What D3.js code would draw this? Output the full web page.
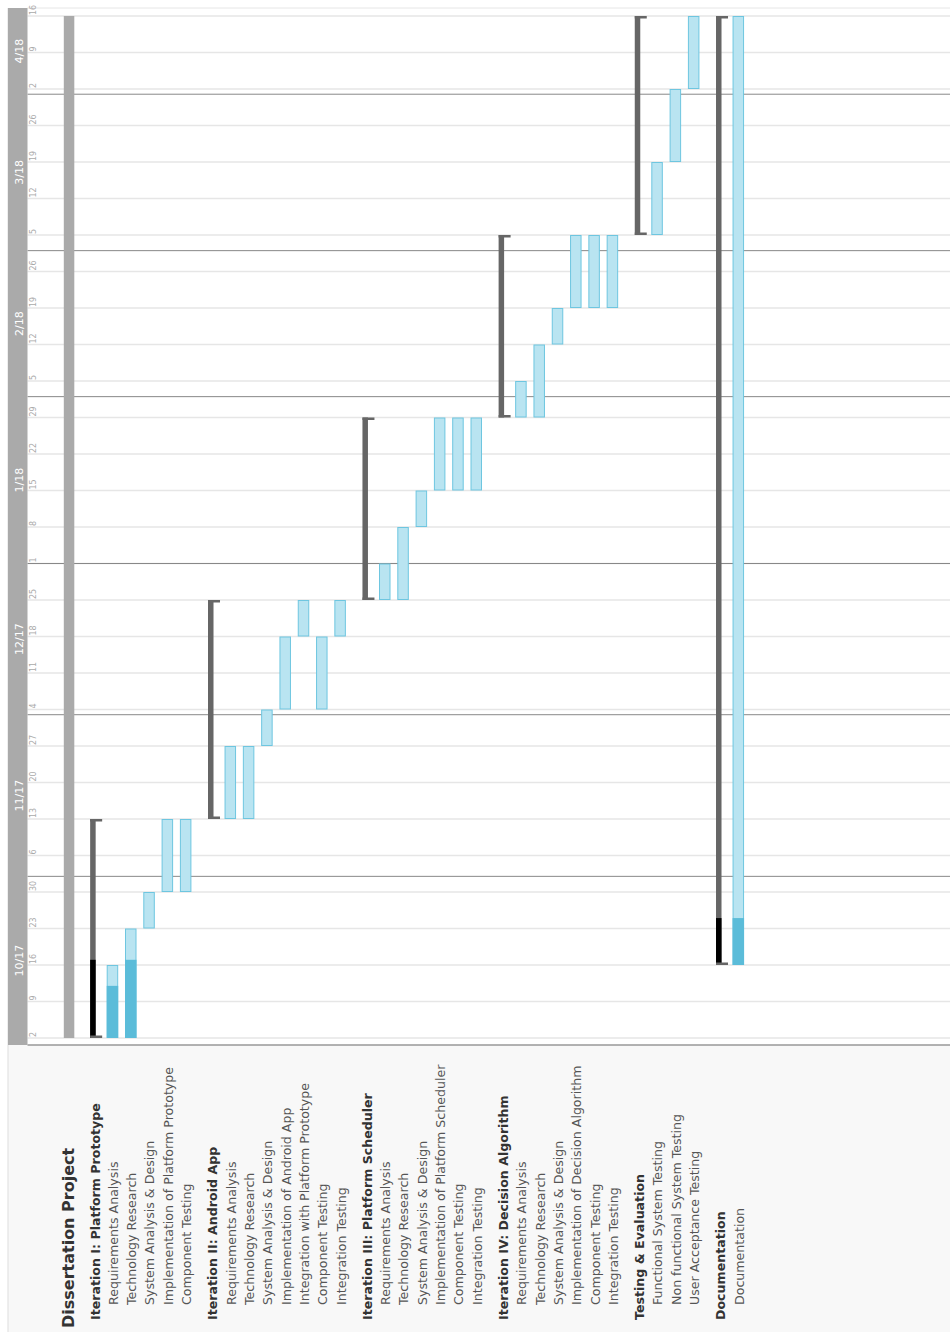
<!DOCTYPE html>
<html>
<head>
<meta charset="utf-8">
<script src="https://cdn.jsdelivr.net/npm/d3@7"></script>
<style>
  body { margin: 0; background: #fff; font-family: "DejaVu Sans", sans-serif; }
</style>
</head>
<body>
<div id="chart"></div>
<script>
// rows of the gantt, in order (0 = project, 1 = group, 2 = task)
const rowNames = [
  "Dissertation Project",
  "Iteration I: Platform Prototype", "Requirements Analysis", "Technology Research", "System Analysis & Design", "Implementation of Platform Prototype", "Component Testing",
  "Iteration II: Android App", "Requirements Analysis", "Technology Research", "System Analysis & Design", "Implementation of Android App", "Integration with Platform Prototype", "Component Testing", "Integration Testing",
  "Iteration III: Platform Scheduler", "Requirements Analysis", "Technology Research", "System Analysis & Design", "Implementation of Platform Scheduler", "Component Testing", "Integration Testing",
  "Iteration IV: Decision Algorithm", "Requirements Analysis", "Technology Research", "System Analysis & Design", "Implementation of Decision Algorithm", "Component Testing", "Integration Testing",
  "Testing & Evaluation", "Functional System Testing", "Non functional System Testing", "User Acceptance Testing",
  "Documentation", "Documentation"
]
const rowLevels = [0, 1, 2, 2, 2, 2, 2, 1, 2, 2, 2, 2, 2, 2, 2, 1, 2, 2, 2, 2, 2, 2, 1, 2, 2, 2, 2, 2, 2, 1, 2, 2, 2, 1, 2]
const rowStarts = [
  "2017-10-02",
  "2017-10-02", "2017-10-02", "2017-10-02", "2017-10-23", "2017-10-30", "2017-10-30",
  "2017-11-13", "2017-11-13", "2017-11-13", "2017-11-27", "2017-12-04", "2017-12-18", "2017-12-04", "2017-12-18",
  "2017-12-25", "2017-12-25", "2017-12-25", "2018-01-08", "2018-01-15", "2018-01-15", "2018-01-15",
  "2018-01-29", "2018-01-29", "2018-01-29", "2018-02-12", "2018-02-19", "2018-02-19", "2018-02-19",
  "2018-03-05", "2018-03-05", "2018-03-19", "2018-04-02",
  "2017-10-16", "2017-10-16"
]
const rowEnds = [
  "2018-04-16",
  "2017-11-13", "2017-10-16", "2017-10-23", "2017-10-30", "2017-11-13", "2017-11-13",
  "2017-12-25", "2017-11-27", "2017-11-27", "2017-12-04", "2017-12-18", "2017-12-25", "2017-12-18", "2017-12-25",
  "2018-01-29", "2018-01-01", "2018-01-08", "2018-01-15", "2018-01-29", "2018-01-29", "2018-01-29",
  "2018-03-05", "2018-02-05", "2018-02-12", "2018-02-19", "2018-03-05", "2018-03-05", "2018-03-05",
  "2018-04-16", "2018-03-19", "2018-04-02", "2018-04-16",
  "2018-04-16", "2018-04-16"
]
// percent complete of each task (groups are worked out from their tasks)
const rowProgress = [0, 0, 75, 75, 0, 0, 0, 0, 0, 0, 0, 0, 0, 0, 0, 0, 0, 0, 0, 0, 0, 0, 0, 0, 0, 0, 0, 0, 0, 0, 0, 0, 0, 0, 5]

// month separators as they sit in the picture
const monthBreaks = ["2017-11-02", "2017-12-03", "2018-01-01", "2018-02-02", "2018-03-02", "2018-04-01"]
const monthNames = ["10/17", "11/17", "12/17", "1/18", "2/18", "3/18", "4/18"]

const parse = d3.timeParse("%Y-%m-%d")
const rows = rowNames.map((name, i) => ({
  name: name,
  level: rowLevels[i],
  start: parse(rowStarts[i]),
  end: parse(rowEnds[i]),
  progress: rowProgress[i]
}))

// slot of each row: one per row plus a small gap before every group
let groupCount = 0
rows.forEach((r, i) => {
  if (r.level == 1) groupCount++
  r.slot = i + groupCount * 0.44
})
// group progress = weighted by task length
rows.forEach((r, i) => {
  if (r.level != 1) return
  let done = 0, total = 0
  for (let j = i + 1; j < rows.length && rows[j].level == 2; j++) {
    const len = rows[j].end - rows[j].start
    total += len
    done += len * rows[j].progress / 100
  }
  r.progress = total ? done / total * 100 : 0
})

function doneDate(d) {
  return d3.timeDay.offset(d.start, (d.end - d.start) / 864e5 * d.progress / 100)
}

const width = 950,
  height = 1332,
  chartTop = 8,
  chartBottom = 1045,
  stripLeft = 8,
  stripRight = 27.5

const svg = d3.select("#chart")
  .append("svg")
  .attr("width", width)
  .attr("height", height)

const y = d3.scaleTime()
  .domain([parse("2017-10-02"), parse("2018-04-16")])
  .range([1038, 16])

const x = d3.scaleLinear()
  .domain([0, 1])
  .range([67.8, 86.1])

// label area at the bottom
svg.append("rect")
  .attr("x", stripLeft).attr("y", chartBottom)
  .attr("width", width - stripLeft).attr("height", height - chartBottom)
  .attr("fill", "#f8f8f8")
svg.append("line")
  .attr("x1", stripLeft).attr("x2", stripLeft)
  .attr("y1", chartTop).attr("y2", height)
  .attr("stroke", "#ddd")

// weekly grid
const weeks = y.ticks(d3.timeMonday.every(1))
svg.selectAll("line.week")
  .data(weeks)
  .join("line")
  .attr("class", "week")
  .attr("x1", stripRight).attr("x2", width)
  .attr("y1", d => y(d)).attr("y2", d => y(d))
  .attr("stroke", "#e6e6e6")
  .attr("stroke-width", 1.5)

svg.append("line")
  .attr("x1", stripRight).attr("x2", width)
  .attr("y1", chartTop).attr("y2", chartTop)
  .attr("stroke", "#e6e6e6")

svg.selectAll("text.week")
  .data(weeks)
  .join("text")
  .attr("class", "week")
  .attr("transform", d => `translate(33,${y(d) - 1}) rotate(-90)`)
  .attr("dy", "0.35em")
  .style("font-size", "8px")
  .style("fill", "#aaa")
  .text(d3.timeFormat("%-d"))

// month lines + month strip
const months = monthBreaks.map(parse)
svg.selectAll("line.month")
  .data(months)
  .join("line")
  .attr("class", "month")
  .attr("x1", stripRight).attr("x2", width)
  .attr("y1", d => y(d)).attr("y2", d => y(d))
  .attr("stroke", "#888")
  .attr("stroke-width", 1)

svg.append("rect")
  .attr("x", stripLeft).attr("y", chartTop)
  .attr("width", stripRight - stripLeft).attr("height", chartBottom - chartTop)
  .attr("fill", "#aaa")

svg.selectAll("text.month")
  .data(monthNames)
  .join("text")
  .attr("class", "month")
  .attr("transform", (d, i) => {
    const lo = i == 0 ? chartBottom : y(months[i - 1])
    const hi = i == monthNames.length - 1 ? chartTop : y(months[i])
    return `translate(19,${(lo + hi) / 2}) rotate(-90)`
  })
  .attr("dy", "0.35em")
  .attr("text-anchor", "middle")
  .style("font-size", "11px")
  .style("fill", "#fff")
  .text(d => d)

svg.append("line")
  .attr("x1", stripRight).attr("x2", width)
  .attr("y1", chartBottom).attr("y2", chartBottom)
  .attr("stroke", "#999")
  .attr("stroke-width", 1.5)

// project bar
const project = rows.filter(r => r.level == 0)
svg.selectAll("rect.project")
  .data(project)
  .join("rect")
  .attr("x", d => x(d.slot) - 4)
  .attr("width", 10.5)
  .attr("y", d => y(d.end))
  .attr("height", d => y(d.start) - y(d.end))
  .attr("fill", "#aaa")

// group brackets
const groups = rows.filter(r => r.level == 1)
const g = svg.selectAll("g.group")
  .data(groups)
  .join("g")
  .attr("class", "group")
g.append("rect")
  .attr("x", d => x(d.slot) - 4)
  .attr("width", 5.5)
  .attr("y", d => y(d.end))
  .attr("height", d => y(d.start) - y(d.end))
  .attr("fill", "#666")
g.append("rect")
  .attr("x", d => x(d.slot) - 4)
  .attr("width", 5.5)
  .attr("y", d => y(doneDate(d)))
  .attr("height", d => y(d.start) - y(doneDate(d)))
  .attr("fill", "#000")
g.append("rect")
  .attr("x", d => x(d.slot) - 4)
  .attr("width", 12)
  .attr("y", d => y(d.end))
  .attr("height", 2.5)
  .attr("fill", "#666")
g.append("rect")
  .attr("x", d => x(d.slot) - 4)
  .attr("width", 12)
  .attr("y", d => y(d.start) - 2.5)
  .attr("height", 2.5)
  .attr("fill", "#666")

// task bars
const tasks = rows.filter(r => r.level == 2)
svg.selectAll("rect.task")
  .data(tasks)
  .join("rect")
  .attr("class", "task")
  .attr("x", d => x(d.slot) - 5.25)
  .attr("width", 10.5)
  .attr("y", d => y(d.end) + 0.5)
  .attr("height", d => y(d.start) - y(d.end) - 1)
  .attr("fill", "#b9e4f1")
  .attr("stroke", "#6ec6e0")
  .attr("stroke-width", 1)

svg.selectAll("rect.done")
  .data(tasks.filter(d => d.progress > 0))
  .join("rect")
  .attr("class", "done")
  .attr("x", d => x(d.slot) - 5.75)
  .attr("width", 11.5)
  .attr("y", d => y(doneDate(d)))
  .attr("height", d => y(d.start) - y(doneDate(d)))
  .attr("fill", "#5bbcd9")

// row labels
const labelStart = [1328, 1320, 1305]
svg.selectAll("text.label")
  .data(rows)
  .join("text")
  .attr("class", "label")
  .attr("transform", d => `translate(${x(d.slot) + 1},${labelStart[d.level]}) rotate(-90)`)
  .attr("dy", "0.35em")
  .style("font-size", d => d.level == 0 ? "16px" : "12.6px")
  .style("font-weight", d => d.level == 2 ? "normal" : "bold")
  .style("fill", d => d.level == 2 ? "#555" : "#333")
  .text(d => d.name)
</script>
</body>
</html>
